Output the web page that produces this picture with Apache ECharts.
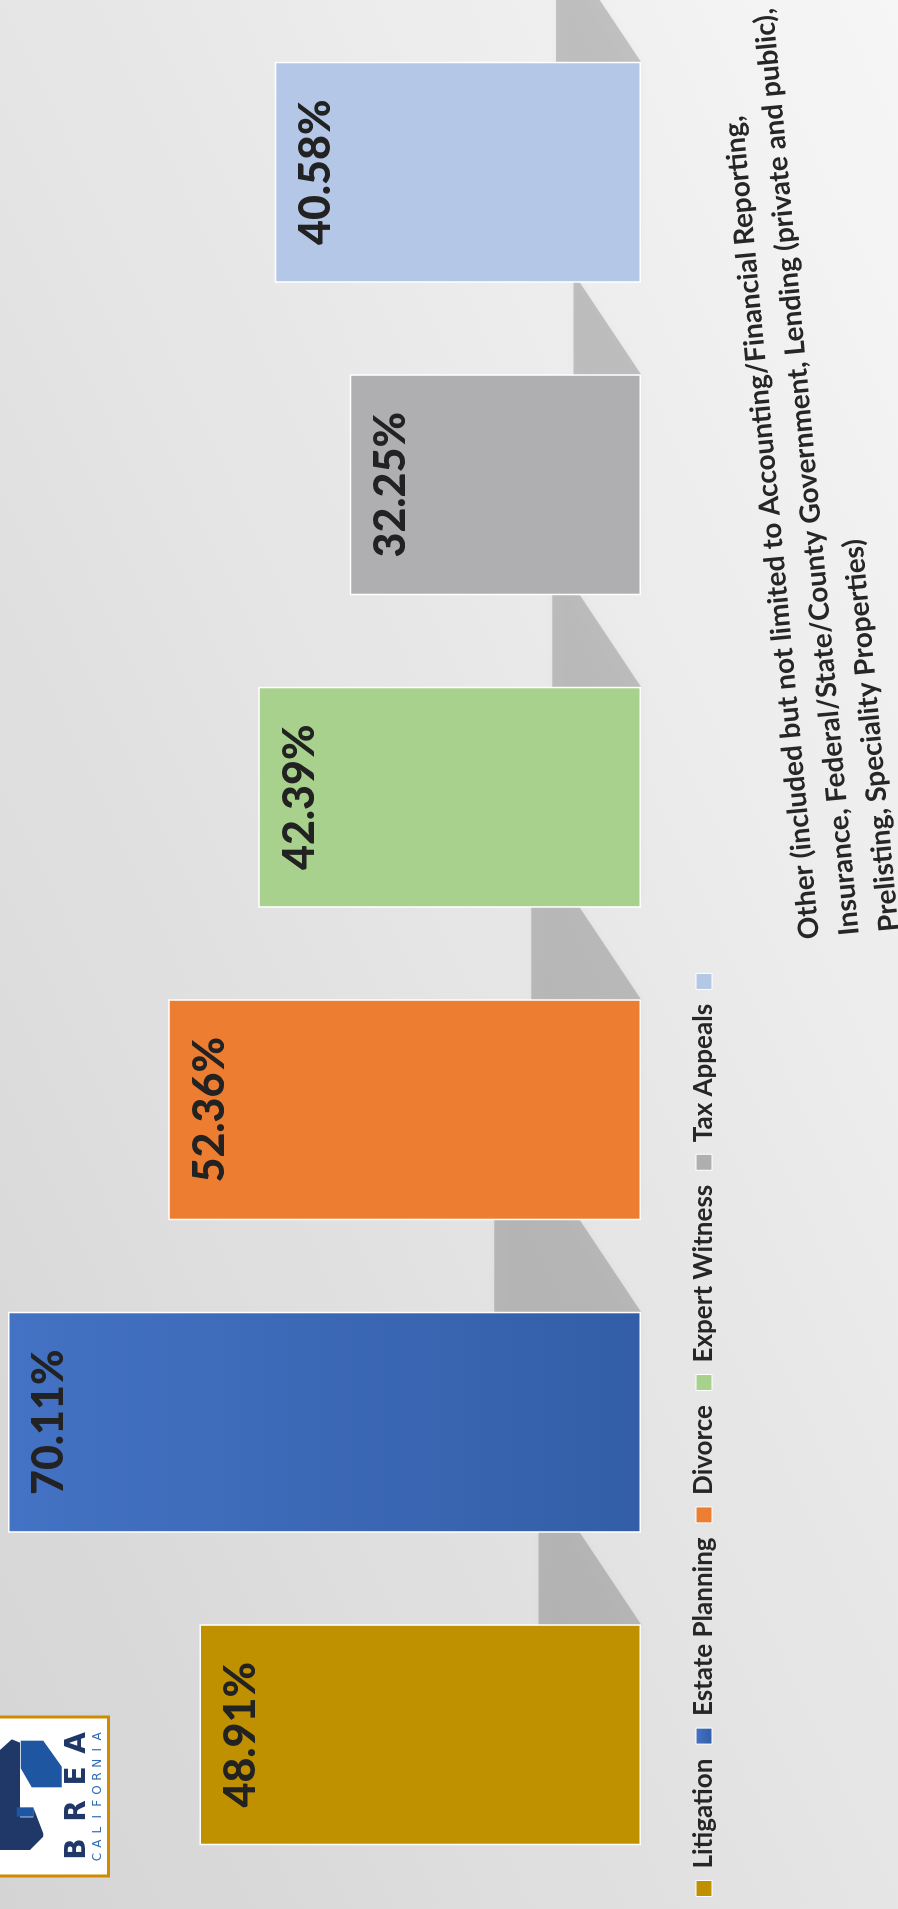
<!DOCTYPE html>
<html>
<head>
<meta charset="utf-8">
<script src="https://cdn.jsdelivr.net/npm/echarts@6/dist/echarts.min.js"></script>
<style>
html,body{margin:0;padding:0;width:898px;height:1909px;overflow:hidden;}
body{background:linear-gradient(to top right,#d4d4d4 0%,#e5e5e5 50%,#f6f6f6 100%);}
#chart{position:absolute;left:0;top:0;width:1909px;height:898px;transform-origin:0 0;transform:translate(0,1909px) rotate(-90deg);}
</style>
</head>
<body>
<div id="chart"></div>
<script>
// ---- data ----
const OTHER_LABEL_LINES = [
  'Other (included but not limited to Accounting/Financial Reporting,',
  'Insurance, Federal/State/County Government, Lending (private and public),',
  'Prelisting, Speciality Properties)'
];
const CATEGORIES = ['Litigation', 'Estate Planning', 'Divorce', 'Expert Witness', 'Tax Appeals', OTHER_LABEL_LINES.join(' ')];
const VALUES = [48.91, 70.11, 52.36, 42.39, 32.25, 40.58];

// ---- styles ----
const COLORS = [
  '#BF9000',
  {type:'linear', x:0, y:0, x2:0, y2:1, colorStops:[{offset:0, color:'#4472C4'}, {offset:1, color:'#335EA7'}]},
  '#ED7D31',
  '#A9D18E',
  '#AFAFB2',
  '#B4C7E7'
];
const BAR_FRAC = 0.707;
const SHADOW_H = 0.232;
const SHADOW_SKEW = 1.5;
const FONT = 'Lato, "Open Sans", sans-serif';

const chart = echarts.init(document.getElementById('chart'), null, {width:1909, height:898});

const barSeries = CATEGORIES.map((name, i) => ({
  name: name,
  type: 'bar',
  stack: 'all',
  barWidth: (BAR_FRAC * 100) + '%',
  z: 3,
  itemStyle: {color: COLORS[i], borderColor: '#ffffff', borderWidth: 1.5},
  label: {
    show: true, position: 'insideTop', distance: 20,
    formatter: p => Number(p.value).toFixed(2) + '%',
    fontFamily: FONT, fontWeight: 900, fontSize: 43, color: '#222222'
  },
  data: CATEGORIES.map((_, j) => j === i ? VALUES[i] : '-')
}));

const shadowSeries = {
  type: 'custom',
  name: '_shadow',
  silent: true,
  z: 1,
  data: VALUES.map((v, i) => [i, v]),
  renderItem: function (params, api) {
    const i = api.value(0), v = api.value(1);
    const base = api.coord([i, 0]);
    const top = api.coord([i, v]);
    const w = api.size([1, 0])[0] * BAR_FRAC;
    const h = (base[1] - top[1]) * SHADOW_H;
    const d = h * SHADOW_SKEW;
    const xL = base[0] - w / 2, xR = base[0] + w / 2, y0 = base[1];
    return {
      type: 'polygon',
      shape: {points: [[xL, y0], [xR, y0], [xR + d, y0 - h], [xL + d, y0 - h]]},
      style: {fill: 'rgba(0,0,0,0.19)', shadowBlur: 10, shadowColor: 'rgba(0,0,0,0.14)'}
    };
  }
};

// logo (decoration) drawn in a local frame of the reference crop
function lp(zx, zy) { return [209 - zy / 3, zx / 3]; }
const logoShapes = [
  {pts: [[0,150],[35,118],[60,128],[60,440],[0,445]], fill: '#1F3868'},
  {pts: [[62,122],[130,122],[185,200],[185,262],[95,262],[62,205]], fill: '#1E56A1'},
  {pts: [[0,330],[50,330],[50,352],[100,352],[100,322],[130,400],[130,410],[90,450],[0,450]], fill: '#1F3868'},
  {pts: [[50,322],[100,322],[100,350],[50,350]], fill: '#1E56A1'}
];
const BREA = ['B','R','E','A'];
const BREA_X = [60, 98, 133, 166];
const CAL = 'CALIFORNIA'.split('');

const graphics = [];
graphics.push({type:'rect', shape:{x:33, y:-20, width:159, height:128.5}, style:{fill:'#ffffff', stroke:'#CF8A00', lineWidth:3}, z:10});
logoShapes.forEach(s => graphics.push({type:'polygon', shape:{points: s.pts.map(p => lp(p[0], p[1]))}, style:{fill: s.fill}, z:11}));
BREA.forEach((c, k) => graphics.push({type:'text', x: BREA_X[k], y: 78, style:{text:c, font:'bold 28px "DejaVu Sans", sans-serif', fill:'#1F3868', align:'center', verticalAlign:'middle'}, z:11}));
CAL.forEach((c, k) => graphics.push({type:'text', x: 52 + k * 13.4, y: 97.5, style:{text:c, font:'12px "DejaVu Sans", sans-serif', fill:'#2F6DB5', align:'center', verticalAlign:'middle'}, z:11}));

graphics.push({
  type: 'group', x: 970, y: 810, rotation: 5.3 * Math.PI / 180, z: 5,
  children: OTHER_LABEL_LINES.map((t, k) => ({
    type: 'text', x: 0, y: k * 40,
    style: {text: t, font: 'bold 28px ' + FONT, fill: '#262626', align: 'left', verticalAlign: 'middle'}
  }))
});

chart.setOption({
  backgroundColor: 'transparent',
  animation: false,
  grid: {left: 18, right: 16, top: 0, bottom: 257, containLabel: false},
  xAxis: {type: 'category', data: CATEGORIES, show: false},
  yAxis: {type: 'value', min: 0, max: 71, show: false},
  legend: {
    data: CATEGORIES, left: 7, top: 686, icon: 'rect', itemWidth: 16, itemHeight: 16, itemGap: 14,
    itemStyle: {borderColor: '#ffffff', borderWidth: 1},
    formatter: n => n === CATEGORIES[5] ? '' : n,
    textStyle: {fontFamily: FONT, fontWeight: 'bold', fontSize: 26, color: '#262626', padding: [0, 0, 0, 7]}
  },
  graphic: graphics,
  series: [shadowSeries].concat(barSeries)
});
</script>
</body>
</html>
